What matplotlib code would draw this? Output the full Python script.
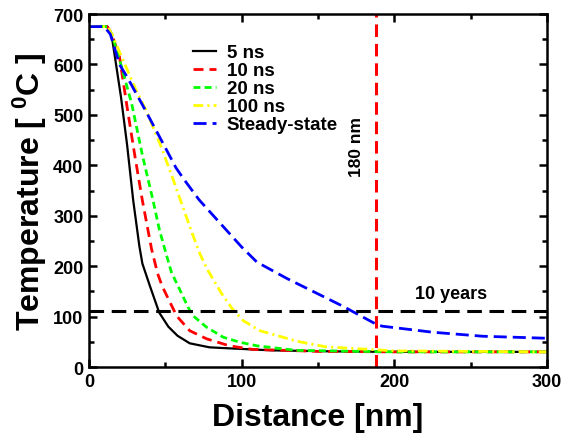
import matplotlib
matplotlib.use("Agg")
import matplotlib.pyplot as plt
from matplotlib.ticker import MultipleLocator

plt.rcParams['font.family'] = ['Liberation Sans', 'DejaVu Sans']
plt.rcParams['font.weight'] = 'bold'
plt.rcParams['mathtext.fontset'] = 'custom'
plt.rcParams['mathtext.rm'] = 'Liberation Sans:bold'
plt.rcParams['mathtext.bf'] = 'Liberation Sans:bold'
plt.rcParams['mathtext.it'] = 'Liberation Sans:bold'
plt.rcParams['lines.scale_dashes'] = False

# Data (distance in nm, temperature in deg C)
x_5ns = [0, 12, 15, 21, 25, 29, 33, 35, 40, 46, 52, 58, 66, 79, 92, 120, 160, 200, 300]
t_5ns = [675, 675, 655, 535, 440, 330, 240, 205, 160, 108, 80, 62, 47, 39, 37, 33, 31, 30, 30]

x_10ns = [0, 12, 15, 20, 25, 30, 35, 41, 45, 48, 52, 57.5, 66, 77, 92, 107, 150, 200, 300]
t_10ns = [675, 675, 660, 615, 515, 420, 330, 234, 185, 160, 135, 101, 72, 56, 42, 35, 31, 30, 30]

x_20ns = [0, 12, 15, 20, 28, 35, 42, 46, 50, 54, 60, 65, 68, 77, 88, 99, 110, 136, 200, 300]
t_20ns = [675, 675, 660, 610, 522, 420, 330, 274, 230, 188, 150, 118, 102, 79, 59, 49, 42, 33, 30, 30]

x_100ns = [0, 12, 15, 20, 25, 31, 37, 47, 55, 62, 68, 73, 78, 87, 94, 101, 112, 127, 138, 155, 200, 300]
t_100ns = [675, 675, 660, 625, 590, 548, 512, 439, 373, 313, 262, 222, 191, 145, 115, 92, 72, 59, 50, 40, 32, 30]

x_ss = [0, 10, 14, 20, 25, 35, 50, 57, 62, 72, 83, 100, 110, 130, 166, 188, 192, 225, 258, 300]
t_ss = [675, 675, 660, 600, 575, 520, 435, 395, 373, 332, 295, 238, 208, 175, 121, 85, 81, 69, 61, 57]

ten_years_temp = 111
marker_distance = 188

fig = plt.figure(figsize=(5.63, 4.35), dpi=100)
ax = fig.add_axes([0.158, 0.154, 0.8136, 0.8115])

ax.plot(x_5ns, t_5ns, color='black', lw=1.6, label='5 ns')
l2, = ax.plot(x_10ns, t_10ns, color='#ff0000', lw=2, label='10 ns')
l2.set_dashes((7.2, 4.3))
l3, = ax.plot(x_20ns, t_20ns, color='#00ff00', lw=2, label='20 ns')
l3.set_dashes((5, 3))
l4, = ax.plot(x_100ns, t_100ns, color='#ffff00', lw=2, label='100 ns')
l4.set_dashes((7, 3, 1.5, 3))
l5, = ax.plot(x_ss, t_ss, color='#0000ff', lw=2, label='Steady-state')
l5.set_dashes((9.4, 4.3))

hl = ax.axhline(ten_years_temp, color='black', lw=2.2)
hl.set_dashes((10.5, 5.5))
vl = ax.axvline(marker_distance, color='#ff0000', lw=2.2)
vl.set_dashes((9, 5))

ax.text(237, 145, '10 years', fontsize=13, fontweight='bold', ha='center', va='center')
ax.text(175, 438, '180 nm', fontsize=12.5, fontweight='bold', ha='center', va='center', rotation=90)

ax.set_xlim(0, 300)
ax.set_ylim(0, 700)
ax.xaxis.set_major_locator(MultipleLocator(100))
ax.xaxis.set_minor_locator(MultipleLocator(50))
ax.yaxis.set_major_locator(MultipleLocator(100))
ax.yaxis.set_minor_locator(MultipleLocator(50))
ax.tick_params(which='both', direction='in', top=True, right=True, labelsize=13, width=1.8)
ax.tick_params(which='major', length=6, pad=4)
ax.tick_params(which='minor', length=3.5)
for lab in ax.get_xticklabels() + ax.get_yticklabels():
    lab.set_fontweight('bold')
for s in ax.spines.values():
    s.set_linewidth(1.8)

ax.set_xlabel('Distance [nm]', fontsize=23, fontweight='bold')
ax.set_ylabel(r'Temperature [ $^{0}$C ]', fontsize=23, fontweight='bold')
ax.xaxis.set_label_coords(0.5, -0.1)
ax.yaxis.set_label_coords(-0.087, 0.5)

leg = ax.legend(loc='upper left', bbox_to_anchor=(0.227, 0.915), frameon=False,
                fontsize=13.5, handlelength=1.25, handletextpad=0.55, labelspacing=0.05,
                borderaxespad=0, borderpad=0)
for t in leg.get_texts():
    t.set_fontweight('bold')

fig.savefig('out.png', dpi=100)
